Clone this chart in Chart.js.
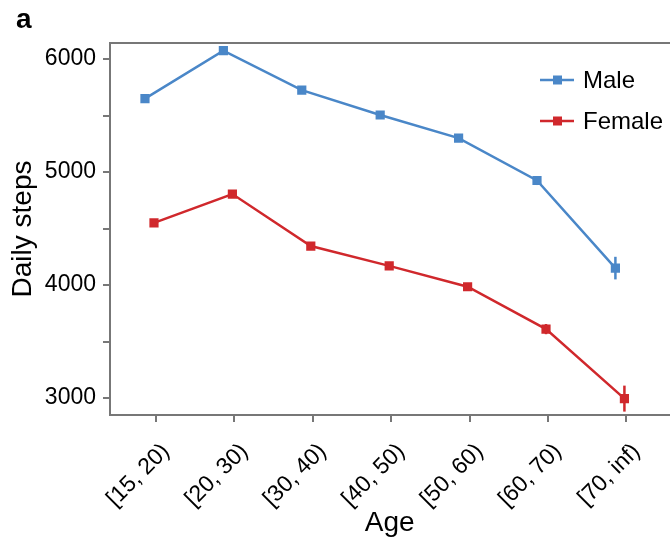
<!DOCTYPE html>
<html>
<head>
<meta charset="utf-8">
<script src="https://cdn.jsdelivr.net/npm/chart.js@4/dist/chart.umd.min.js"></script>
<style>
  html, body { margin: 0; padding: 0; background: #fff; overflow: hidden; }
  #wrap { width: 676px; height: 541px; position: relative; }
</style>
</head>
<body>
<div id="wrap"><canvas id="chart"></canvas></div>
<script>
const ageGroups = ['[15, 20)', '[20, 30)', '[30, 40)', '[40, 50)', '[50, 60)', '[60, 70)', '[70, inf)'];
const maleSteps = [5650, 6075, 5725, 5505, 5300, 4925, 4150];
const maleErr = [35, 30, 30, 28, 30, 40, 100];
const femaleSteps = [4550, 4805, 4345, 4170, 3985, 3610, 2995];
const femaleErr = [30, 30, 30, 28, 30, 45, 115];
const yTicks = [3000, 3500, 4000, 4500, 5000, 5500, 6000];

const BLUE = '#4a87c8';
const RED = '#d0282c';
const AXIS = '#777777';
const FONT = "'Liberation Sans', Arial, sans-serif";
// how far each series is shifted left of its category tick
const dodge = { male: -0.14, female: -0.025 };

function pts(vals, shift) {
  return vals.map((v, i) => ({ x: i + shift, y: v }));
}

const chartExtras = {
  id: 'chartExtras',
  afterDatasetsDraw(chart) {
    const ctx = chart.ctx;
    const xs = chart.scales.x, ys = chart.scales.y;
    const area = chart.chartArea;
    // error bars
    const errs = [maleErr, femaleErr];
    chart.data.datasets.forEach((ds, d) => {
      ctx.save();
      ctx.strokeStyle = ds.borderColor;
      ctx.lineWidth = 2.5;
      ds.data.forEach((p, i) => {
        const px = xs.getPixelForValue(p.x);
        ctx.beginPath();
        ctx.moveTo(px, ys.getPixelForValue(p.y - errs[d][i]));
        ctx.lineTo(px, ys.getPixelForValue(p.y + errs[d][i]));
        ctx.stroke();
      });
      ctx.restore();
    });
    // top border of the panel
    ctx.save();
    ctx.strokeStyle = AXIS;
    ctx.lineWidth = 2;
    ctx.beginPath();
    ctx.moveTo(area.left - 1, area.top);
    ctx.lineTo(chart.width, area.top);
    ctx.stroke();
    // legend
    chart.data.datasets.forEach((ds, d) => {
      const y = 80 + d * 41;
      ctx.strokeStyle = ds.borderColor;
      ctx.fillStyle = ds.borderColor;
      ctx.lineWidth = 2.5;
      ctx.beginPath();
      ctx.moveTo(540, y);
      ctx.lineTo(574, y);
      ctx.stroke();
      ctx.fillRect(553, y - 4.5, 9, 9);
      ctx.fillStyle = '#000';
      ctx.font = '24px ' + FONT;
      ctx.textBaseline = 'middle';
      ctx.textAlign = 'left';
      ctx.fillText(ds.label, 583, y + 1);
    });
    // panel letter
    ctx.font = 'bold 28px ' + FONT;
    ctx.fillStyle = '#000';
    ctx.textBaseline = 'alphabetic';
    ctx.fillText('a', 16, 28);
    ctx.restore();
  }
};

new Chart(document.getElementById('chart'), {
  type: 'line',
  data: {
    datasets: [
      {
        label: 'Male',
        data: pts(maleSteps, dodge.male),
        borderColor: BLUE,
        backgroundColor: BLUE,
        borderWidth: 2.5,
        pointStyle: 'rect',
        pointRadius: 6.5,
        pointBorderWidth: 0,
        tension: 0
      },
      {
        label: 'Female',
        data: pts(femaleSteps, dodge.female),
        borderColor: RED,
        backgroundColor: RED,
        borderWidth: 2.5,
        pointStyle: 'rect',
        pointRadius: 6.5,
        pointBorderWidth: 0,
        tension: 0
      }
    ]
  },
  options: {
    responsive: true,
    maintainAspectRatio: false,
    animation: false,
    layout: { padding: { top: 43, left: 0, right: 0, bottom: 0 } },
    plugins: {
      legend: { display: false },
      tooltip: { enabled: false }
    },
    scales: {
      x: {
        type: 'linear',
        min: -0.586,
        max: 6.55,
        afterBuildTicks(scale) { scale.ticks = ageGroups.map((g, i) => ({ value: i })); },
        afterFit(scale) { scale.height = 126; },
        grid: { display: true, drawOnChartArea: false, drawTicks: true, tickLength: 7, color: AXIS, lineWidth: 2 },
        border: { display: true, color: AXIS, width: 2 },
        ticks: {
          autoSkip: false,
          maxRotation: 45,
          minRotation: 45,
          padding: 16,
          labelOffset: 10,
          color: '#000',
          font: { family: FONT, size: 23 },
          callback: (v) => ageGroups[v] !== undefined ? ageGroups[v] : ''
        },
        title: {
          display: true,
          text: 'Age',
          color: '#000',
          font: { family: FONT, size: 28 },
          padding: { top: 0, bottom: 1 }
        }
      },
      y: {
        min: 2850,
        max: 6142,
        afterBuildTicks(scale) { scale.ticks = yTicks.map(v => ({ value: v })); },
        afterFit(scale) { scale.width = 110; },
        grid: { display: true, drawOnChartArea: false, drawTicks: true, tickLength: 7, color: AXIS, lineWidth: 2 },
        border: { display: true, color: AXIS, width: 2 },
        ticks: {
          padding: 7,
          color: '#000',
          font: { family: FONT, size: 23 },
          callback: (v) => v % 1000 === 0 ? String(v) : ''
        },
        title: {
          display: true,
          text: 'Daily steps',
          color: '#000',
          font: { family: FONT, size: 28 },
          padding: { top: 6, bottom: 0 }
        }
      }
    }
  },
  plugins: [chartExtras]
});
</script>
</body>
</html>
